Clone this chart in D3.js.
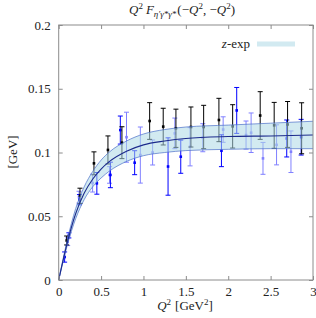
<!DOCTYPE html>
<html>
<head>
<meta charset="utf-8">
<script src="https://cdn.jsdelivr.net/npm/d3@7"></script>
<style>
  body { margin: 0; background: #fff; }
  svg { display: block; font-family: "Liberation Serif", "Times New Roman", "DejaVu Serif", serif; }
</style>
</head>
<body>
<div id="chart"></div>
<script>
// Lattice data: black ensemble
var blackQ2 = [0.094, 0.251, 0.416, 0.581, 0.746, 1.073, 1.233, 1.383, 1.560, 1.710, 1.890, 2.052, 2.377, 2.542, 2.700, 2.866];
var blackVal = [0.031, 0.066, 0.0915, 0.102, 0.1077, 0.1247, 0.1203, 0.119, 0.120, 0.120, 0.1255, 0.1205, 0.129, 0.1213, 0.122, 0.119];
var blackErr = [0.0035, 0.006, 0.009, 0.011, 0.0125, 0.0144, 0.0144, 0.015, 0.0157, 0.017, 0.017, 0.017, 0.0187, 0.018, 0.018, 0.020];

// dark blue ensemble
var blueQ2 = [0.070, 0.120, 0.245, 0.450, 0.610, 0.727, 0.896, 1.290, 1.440, 1.920, 2.100, 2.690, 2.860];
var blueVal = [0.018, 0.035, 0.063, 0.0758, 0.0824, 0.1176, 0.092, 0.089, 0.0967, 0.1014, 0.133, 0.111, 0.112];
var blueErr = [0.004, 0.002, 0.004, 0.0085, 0.010, 0.011, 0.0094, 0.0225, 0.013, 0.0125, 0.018, 0.0145, 0.014];

// light blue ensemble
var lightQ2 = [0.106, 0.240, 0.400, 0.600, 0.800, 0.963, 1.108, 1.370, 1.550, 1.700, 1.940, 2.210, 2.270, 2.410, 2.570, 2.740];
var lightVal = [0.030, 0.065, 0.076, 0.0824, 0.112, 0.098, 0.100, 0.115, 0.1045, 0.1116, 0.118, 0.1137, 0.1155, 0.0954, 0.106, 0.1006];
var lightErr = [0.003, 0.0046, 0.007, 0.0065, 0.0196, 0.022, 0.0098, 0.012, 0.015, 0.011, 0.010, 0.011, 0.0155, 0.0125, 0.0157, 0.0163];

// z-expansion fit
var fitQ2 = [0, 0.05, 0.1, 0.2, 0.3, 0.4, 0.5, 0.6, 0.8, 1.0, 1.25, 1.5, 2.0, 2.5, 3.0];
var fitMid = [0, 0.015, 0.029, 0.052, 0.068, 0.079, 0.087, 0.093, 0.101, 0.106, 0.109, 0.111, 0.1125, 0.113, 0.1137];
var fitHi = [0, 0.016, 0.031, 0.056, 0.073, 0.085, 0.094, 0.1005, 0.109, 0.1145, 0.118, 0.120, 0.1215, 0.123, 0.1245];
var fitLo = [0, 0.014, 0.027, 0.048, 0.063, 0.073, 0.080, 0.0855, 0.093, 0.0975, 0.100, 0.1015, 0.1025, 0.103, 0.103];

var xTicks = [0, 0.5, 1, 1.5, 2, 2.5, 3];
var yTicks = [0, 0.05, 0.1, 0.15, 0.2];

var width = 316, height = 318;
var margin = {left: 58.7, right: 3, top: 25, bottom: 38};
var serif = '"Liberation Serif", "Times New Roman", "DejaVu Serif", serif';

var svg = d3.select('#chart').append('svg')
  .attr('width', width)
  .attr('height', height);

var x = d3.scaleLinear().domain([0, 3]).range([margin.left, width - margin.right]);
var y = d3.scaleLinear().domain([0, 0.2]).range([height - margin.bottom, margin.top]);

function zip(q, v, e) {
  return q.map(function(d, i) { return {q: d, v: v[i], e: e ? e[i] : 0}; });
}

// error bars with caps and small square markers
function drawSeries(data, color) {
  var g = svg.append('g').attr('stroke', color).attr('fill', color);
  data.forEach(function(d) {
    var cx = x(d.q);
    g.append('line').attr('x1', cx).attr('x2', cx)
      .attr('y1', y(d.v - d.e)).attr('y2', y(d.v + d.e)).attr('stroke-width', 1);
    [d.v - d.e, d.v + d.e].forEach(function(t) {
      g.append('line').attr('x1', cx - 2.5).attr('x2', cx + 2.5)
        .attr('y1', y(t)).attr('y2', y(t)).attr('stroke-width', 1);
    });
    g.append('rect').attr('x', cx - 1.3).attr('y', y(d.v) - 1.3)
      .attr('width', 2.6).attr('height', 2.6).attr('stroke', 'none');
  });
}

drawSeries(zip(lightQ2, lightVal, lightErr), '#8080ff');
drawSeries(zip(blueQ2, blueVal, blueErr), '#0000ff');
drawSeries(zip(blackQ2, blackVal, blackErr), '#000000');

// fit band drawn on top, semi transparent
var fit = fitQ2.map(function(q, i) { return {q: q, m: fitMid[i], hi: fitHi[i], lo: fitLo[i]}; });

svg.append('path').datum(fit)
  .attr('d', d3.area().curve(d3.curveMonotoneX)
    .x(function(d) { return x(d.q); })
    .y0(function(d) { return y(d.lo); })
    .y1(function(d) { return y(d.hi); }))
  .attr('fill', 'rgb(173,216,230)')
  .attr('fill-opacity', 0.55);

['hi', 'lo'].forEach(function(k) {
  svg.append('path').datum(fit)
    .attr('d', d3.line().curve(d3.curveMonotoneX)
      .x(function(d) { return x(d.q); })
      .y(function(d) { return y(d[k]); }))
    .attr('fill', 'none')
    .attr('stroke', '#4b6fc8')
    .attr('stroke-width', 0.7);
});

svg.append('path').datum(fit)
  .attr('d', d3.line().curve(d3.curveMonotoneX)
    .x(function(d) { return x(d.q); })
    .y(function(d) { return y(d.m); }))
  .attr('fill', 'none')
  .attr('stroke', '#1c2a8c')
  .attr('stroke-width', 1.1);

// frame and inward ticks on all four sides
var frameColor = '#8c8c8c';
var x0 = x.range()[0], x1 = x.range()[1], y0 = y.range()[0], y1 = y.range()[1];
svg.append('rect').attr('x', x0).attr('y', y1)
  .attr('width', x1 - x0).attr('height', y0 - y1)
  .attr('fill', 'none').attr('stroke', frameColor).attr('stroke-width', 1);

var axisB = svg.append('g').attr('transform', 'translate(0,' + y0 + ')')
  .call(d3.axisBottom(x).tickValues(xTicks).tickSizeInner(-4).tickSizeOuter(0).tickPadding(7)
    .tickFormat(d3.format('')));
var axisT = svg.append('g').attr('transform', 'translate(0,' + y1 + ')')
  .call(d3.axisTop(x).tickValues(xTicks).tickSizeInner(-4).tickSizeOuter(0).tickFormat(''));
var axisL = svg.append('g').attr('transform', 'translate(' + x0 + ',0)')
  .call(d3.axisLeft(y).tickValues(yTicks).tickSizeInner(-4).tickSizeOuter(0).tickPadding(8)
    .tickFormat(d3.format('')));
var axisR = svg.append('g').attr('transform', 'translate(' + x1 + ',0)')
  .call(d3.axisRight(y).tickValues(yTicks).tickSizeInner(-4).tickSizeOuter(0).tickFormat(''));

[axisB, axisT, axisL, axisR].forEach(function(a) {
  a.attr('font-family', serif).attr('font-size', 13);
  a.select('.domain').remove();
  a.selectAll('line').attr('stroke', frameColor);
  a.selectAll('text').attr('fill', '#222');
});

// title
var title = svg.append('text').attr('x', 182).attr('y', 14).attr('font-family', serif)
  .attr('text-anchor', 'middle').attr('font-size', 13).attr('fill', '#222');
title.append('tspan').attr('font-style', 'italic').text('Q');
title.append('tspan').attr('font-size', 9).attr('dy', -5).text('2');
title.append('tspan').attr('dy', 5).attr('dx', 3).attr('font-style', 'italic').text('F');
title.append('tspan').attr('font-size', 9).attr('dy', 3).attr('font-style', 'italic').text('η′γ*γ*');
title.append('tspan').attr('dy', -3).attr('dx', 1).text('(−');
title.append('tspan').attr('font-style', 'italic').text('Q');
title.append('tspan').attr('font-size', 9).attr('dy', -5).text('2');
title.append('tspan').attr('dy', 5).text(', −');
title.append('tspan').attr('font-style', 'italic').text('Q');
title.append('tspan').attr('font-size', 9).attr('dy', -5).text('2');
title.append('tspan').attr('dy', 5).text(')');

// axis labels
var xl = svg.append('text').attr('x', 185).attr('y', 310).attr('font-family', serif)
  .attr('text-anchor', 'middle').attr('font-size', 13).attr('fill', '#222');
xl.append('tspan').attr('font-style', 'italic').text('Q');
xl.append('tspan').attr('font-size', 9).attr('dy', -5).text('2');
xl.append('tspan').attr('dy', 5).attr('dx', 4).text('[GeV');
xl.append('tspan').attr('font-size', 9).attr('dy', -5).text('2');
xl.append('tspan').attr('dy', 5).text(']');

svg.append('text').attr('transform', 'translate(17,152) rotate(-90)').attr('font-family', serif)
  .attr('text-anchor', 'middle').attr('font-size', 13).attr('fill', '#222')
  .text('[GeV]');

// legend
var leg = svg.append('g');
var legText = leg.append('text').attr('x', 250).attr('y', 48).attr('font-family', serif)
  .attr('text-anchor', 'end').attr('font-size', 13).attr('fill', '#222');
legText.append('tspan').attr('font-style', 'italic').text('z');
legText.append('tspan').text('-exp');
leg.append('rect').attr('x', 257).attr('y', 41.5).attr('width', 38).attr('height', 5)
  .attr('fill', 'rgb(173,216,230)').attr('fill-opacity', 0.55);
</script>
</body>
</html>
